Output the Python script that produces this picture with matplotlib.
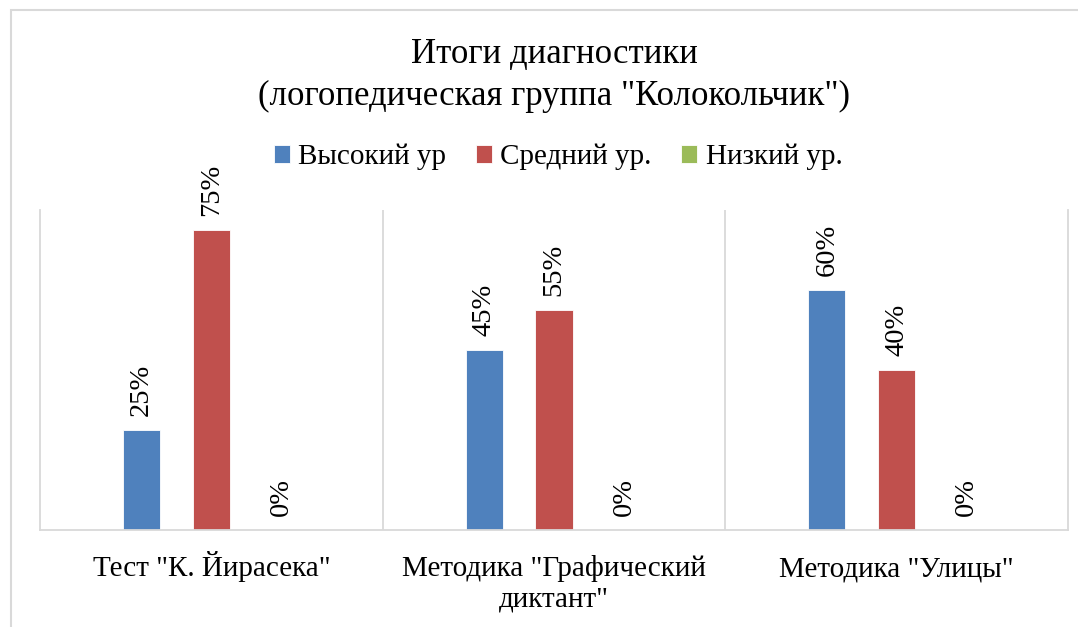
import numpy as np
import matplotlib.pyplot as plt
from matplotlib.patches import Rectangle

categories = ['Тест "К. Йирасека"', 'Методика "Графический\nдиктант"', 'Методика "Улицы"']
series_names = ['Высокий ур', 'Средний ур.', 'Низкий ур.']
high = [25, 45, 60]
mid = [75, 55, 40]
low = [0, 0, 0]
colors = ['#4F81BD', '#C0504D', '#9BBB59']

plt.rcParams['font.family'] = ['Liberation Serif', 'DejaVu Serif']

W, H = 1078, 627
fig = plt.figure(figsize=(W / 100, H / 100), dpi=100)
ax = fig.add_axes([40 / W, 97 / H, 1028 / W, 320 / H])

x = np.arange(len(categories))
width = 0.108
offsets = [-0.204, 0.0, 0.204]
grid_c = '#D9D9D9'

for vals, off, c, name in zip([high, mid, low], offsets, colors, series_names):
    bars = ax.bar(x + off, vals, width, color=c, label=name, edgecolor='white', linewidth=0.6)
    for b, v in zip(bars, vals):
        ax.annotate(f'{v}%', (b.get_x() + b.get_width() / 2, v),
                    xytext=(0, 10), textcoords='offset points',
                    rotation=90, ha='center', va='bottom', fontsize=20.5)

ax.set_xlim(-0.5, 2.5)
ax.set_ylim(0, 80)
ax.set_yticks([])
ax.set_xticks(x)
ax.set_xticklabels([])
ax.tick_params(axis='x', length=0)

# category labels, each line on its own baseline
for xi, label in zip(x, categories):
    for i, line in enumerate(label.split('\n')):
        ax.annotate(line, (xi, 0), xycoords=('data', 'axes fraction'),
                    xytext=(0, -(46 + 30 * i) * 0.72), textcoords='offset points',
                    ha='center', va='baseline', fontsize=21)

for xb in [0.5, 1.5]:
    ax.axvline(xb, color=grid_c, lw=1.3, zorder=0)
ax.spines['top'].set_visible(False)
for s in ['left', 'right', 'bottom']:
    ax.spines[s].set_color(grid_c)
    ax.spines[s].set_linewidth(1.3)

fig.text(554 / W, 1 - 63 / H, 'Итоги диагностики', ha='center', va='baseline', fontsize=25)
fig.text(554 / W, 1 - 105 / H, '(логопедическая группа "Колокольчик")', ha='center', va='baseline', fontsize=25)

fig.legend(loc='center', bbox_to_anchor=(558 / W, 1 - 157 / H), ncol=3, frameon=False,
           fontsize=21, handlelength=0.55, handleheight=0.55, handletextpad=0.3,
           columnspacing=1.0)

fig.patches.append(Rectangle((11 / W, -0.05), 1.1, 1 - 10 / H + 0.05, transform=fig.transFigure,
                             fill=False, edgecolor=grid_c, lw=1.5))

fig.savefig('out.png', dpi=100)
